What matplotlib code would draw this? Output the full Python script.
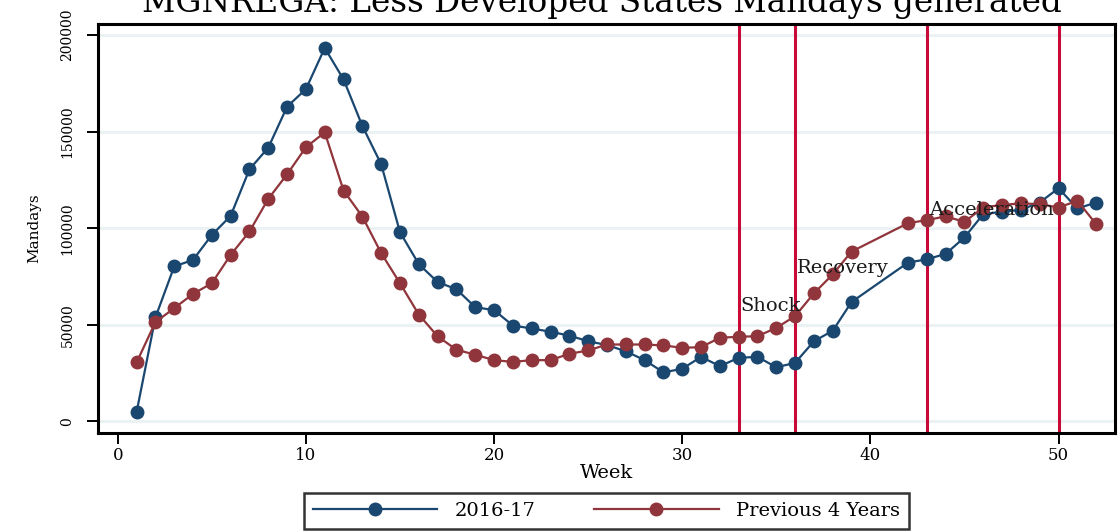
import matplotlib
matplotlib.use("Agg")
import matplotlib.pyplot as plt

# weeks 40 and 41 are missing in the source
weeks = [1, 2, 3, 4, 5, 6, 7, 8, 9, 10, 11, 12, 13, 14, 15, 16, 17, 18, 19, 20,
         21, 22, 23, 24, 25, 26, 27, 28, 29, 30, 31, 32, 33, 34, 35, 36, 37, 38, 39,
         42, 43, 44, 45, 46, 47, 48, 49, 50, 51, 52]

mandays_2016 = [4800, 53800, 80200, 83600, 96500, 106400, 130500, 141700, 162900, 172000,
                193300, 177000, 152900, 133100, 97900, 81400, 72100, 68400, 59100, 57600,
                49600, 48100, 46400, 44400, 41500, 39500, 36300, 31700, 25400, 27200,
                33400, 28600, 32900, 33400, 28000, 30300, 41500, 46900, 61800,
                82200, 83900, 86700, 95200, 107300, 108500, 109500, 113300, 120700, 110200, 113300]

mandays_prev4 = [30500, 51400, 58600, 66000, 71500, 86200, 98300, 115200, 127900, 141900,
                 149600, 119500, 106000, 87100, 71500, 55300, 44000, 37100, 34500, 31700,
                 30800, 31700, 31700, 35000, 36700, 39800, 39800, 39800, 39300, 38100,
                 38400, 43300, 43800, 44100, 48400, 54500, 66300, 76100, 87900,
                 102600, 104200, 106100, 103300, 110700, 112100, 112800, 112500, 110700, 114200, 102100]

phase_weeks = [33, 36, 43, 50]
phase_labels = ["Shock", "Recovery", "Acceleration"]
phase_label_y = [59700, 79600, 109500]

NAVY = "#1a476f"
MAROON = "#90353b"
LINE_RED = "#c80a38"

plt.rcParams["font.family"] = ["DejaVu Serif"]

fig = plt.figure(figsize=(11.19, 5.31), dpi=100)
ax = fig.add_axes([0.0876, 0.1846, 0.9088, 0.7702])

ax.set_xlim(-1.05, 53)
ax.set_ylim(-6000, 205700)

for y in [0, 50000, 100000, 150000, 200000]:
    ax.axhline(y, color="#eaf2f3", lw=2.2, zorder=0)

for w in phase_weeks:
    ax.axvline(w, color=LINE_RED, lw=2.2, zorder=1)

ax.plot(weeks, mandays_2016, color=NAVY, lw=1.6, marker="o", ms=9, label="2016-17", zorder=3)
ax.plot(weeks, mandays_prev4, color=MAROON, lw=1.6, marker="o", ms=9,
        label="Previous 4 Years", zorder=3)

for w, lab, y in zip(phase_weeks, phase_labels, phase_label_y):
    ax.text(w + 0.1, y, lab, fontsize=14, color="#1a1a1a", va="center", ha="left", zorder=4)

ax.set_xticks([0, 10, 20, 30, 40, 50])
ax.set_yticks([0, 50000, 100000, 150000, 200000])
ax.tick_params(axis="both", direction="out", length=8, width=1.4, colors="black")
ax.tick_params(axis="x", labelsize=12, pad=2)
ax.tick_params(axis="y", labelsize=10, pad=9)
for lab in ax.get_yticklabels():
    lab.set_rotation(90)
    lab.set_va("center")

for s in ax.spines.values():
    s.set_linewidth(2.2)
    s.set_color("black")

ax.set_xlabel("Week", fontsize=14, labelpad=0)
ax.set_ylabel("Mandays", fontsize=11, labelpad=14)

fig.text(0.538, 0.977, "MGNREGA: Less Developed States Mandays generated",
         fontsize=23.5, ha="center", va="baseline")

leg = fig.legend(loc="upper center", bbox_to_anchor=(0.542, 0.071), ncol=2,
                 fontsize=14, handlelength=6.4, handletextpad=0.9, columnspacing=3.0,
                 borderpad=0.45, borderaxespad=0, frameon=True, fancybox=False)
leg.get_frame().set_edgecolor("black")
leg.get_frame().set_linewidth(1.8)

fig.savefig("out.png", dpi=100)
